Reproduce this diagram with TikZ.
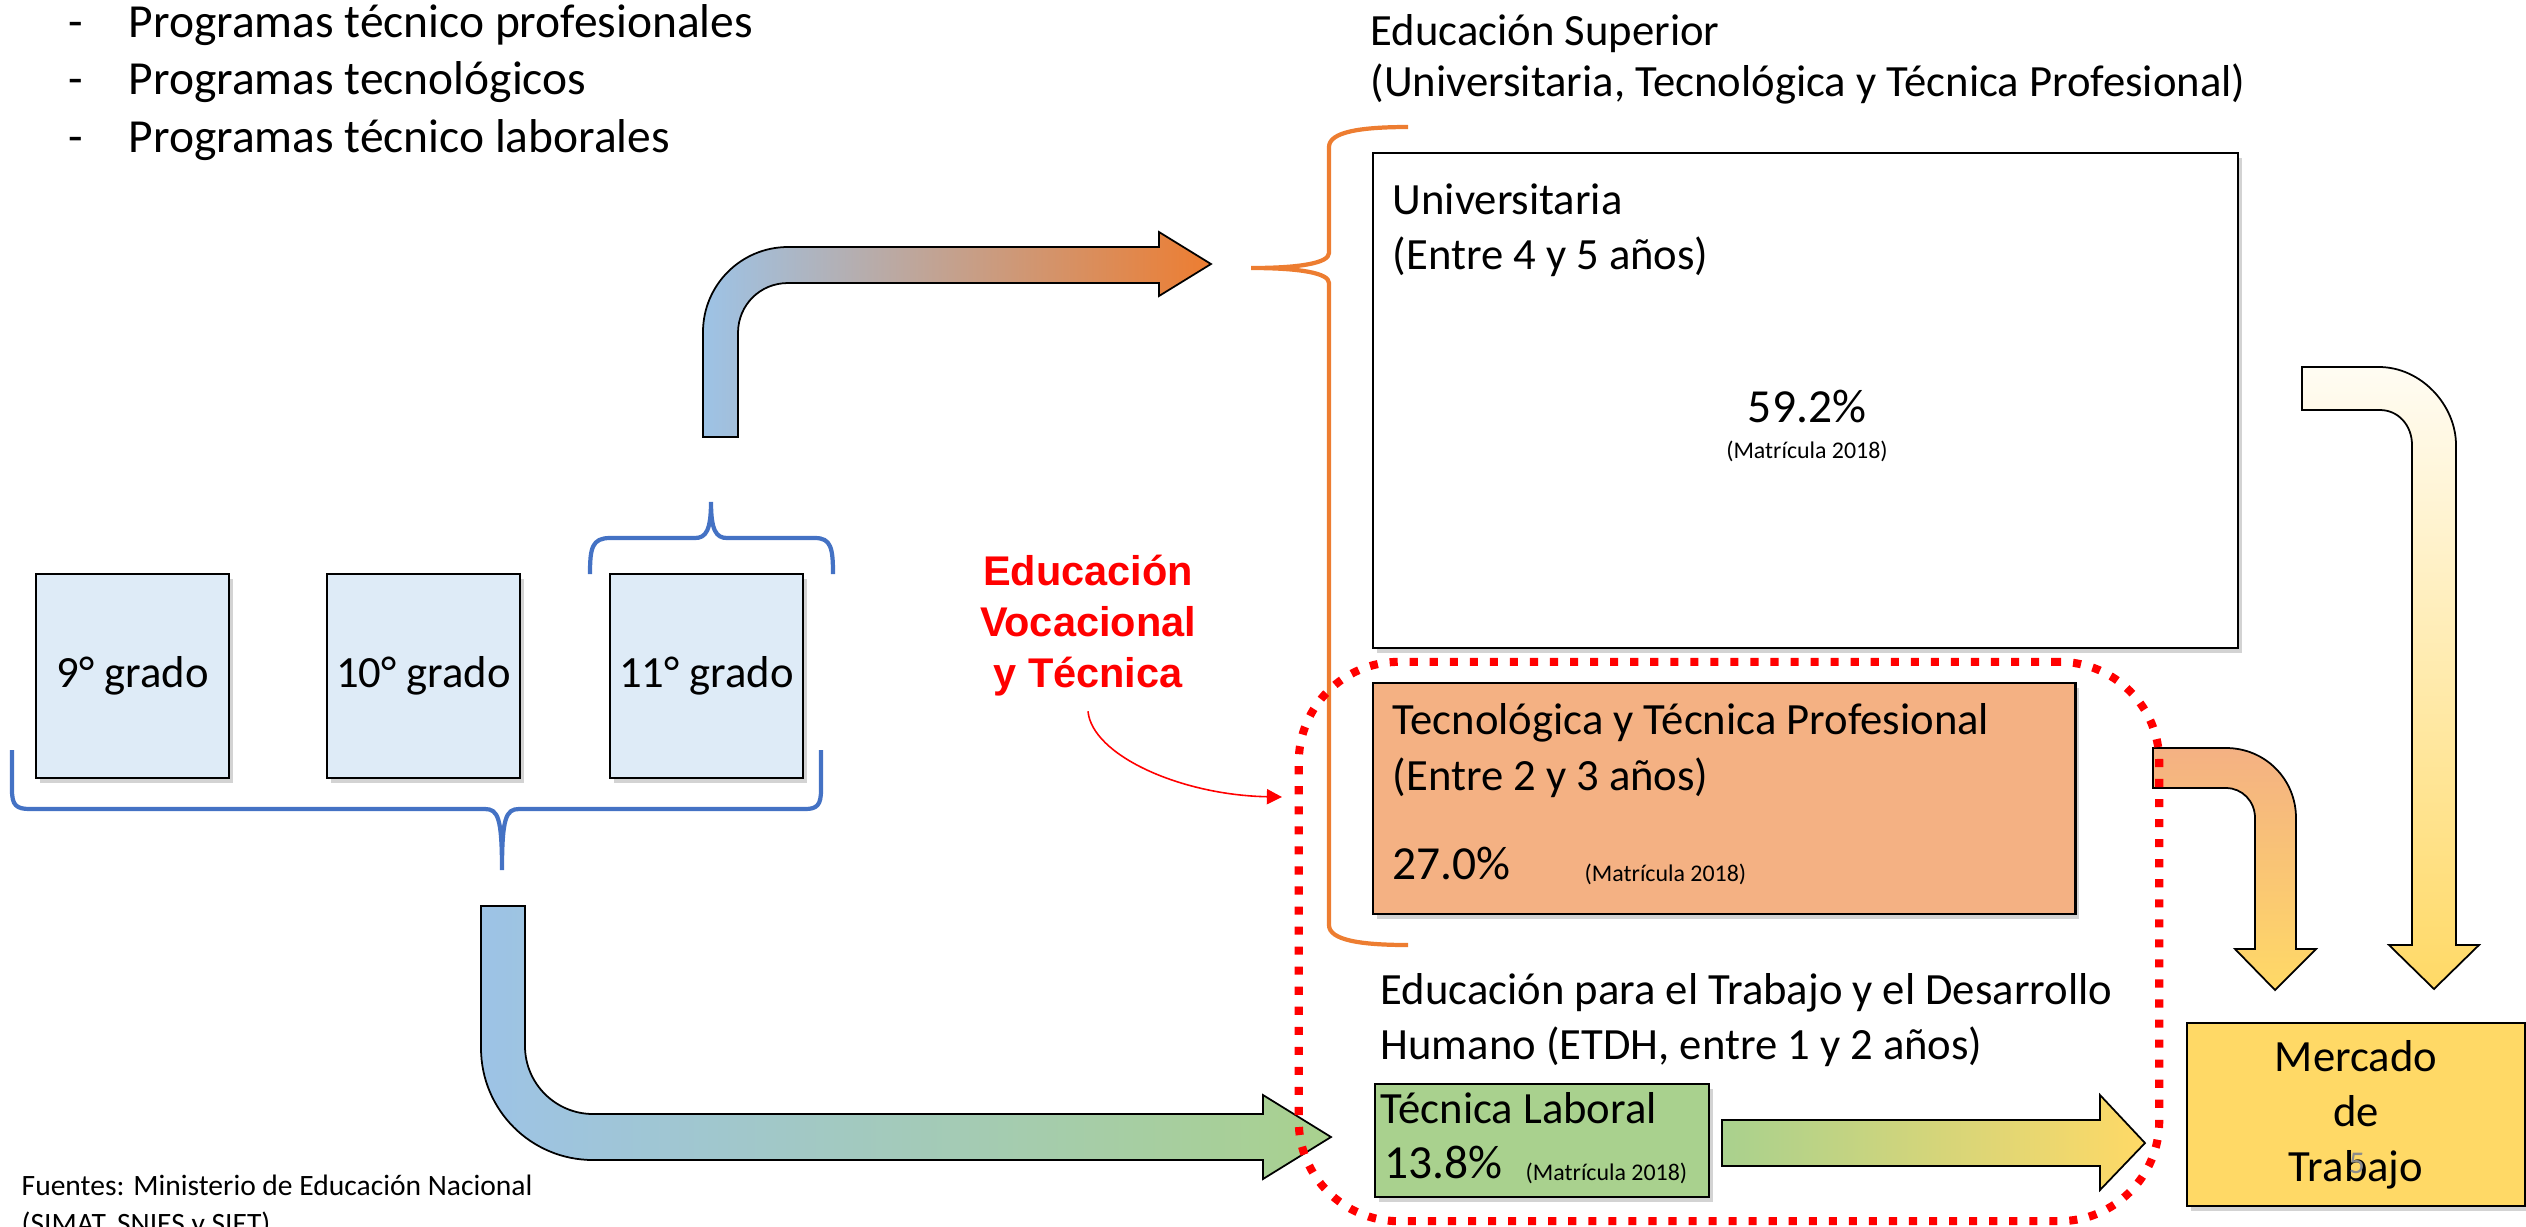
\documentclass[tikz,border=0pt]{standalone}
\usepackage{fontspec}
\setmainfont{Carlito}
\newfontfamily\arialfont{Liberation Sans}
\usepackage{xcolor}
\usepackage{tikz}
\usetikzlibrary{shapes,arrows.meta,positioning,calc,shadows}

\definecolor{gradeblue}{HTML}{DEEBF7}
\definecolor{arrowblue}{HTML}{9DC3E6}
\definecolor{braceblue}{HTML}{4472C4}
\definecolor{braceorange}{HTML}{ED7D31}
\definecolor{tecorange}{HTML}{F4B183}
\definecolor{labgreen}{HTML}{A9D18E}
\definecolor{mercyellow}{HTML}{FFD966}
\definecolor{cream}{HTML}{FFFCF3}
\definecolor{slidegray}{HTML}{8C8C8C}

\newcommand{\bodysize}{\fontsize{12.7}{15.6}\selectfont}
\newcommand{\listsize}{\fontsize{13.5}{16.2}\selectfont}
\newcommand{\pctsize}{\fontsize{13.5}{16}\selectfont}
\newcommand{\matsize}{\fontsize{6.8}{8}\selectfont}
\newcommand{\srcsize}{\fontsize{8.4}{10.8}\selectfont}

\tikzset{
  boxshadow/.style={drop shadow={shadow xshift=0.04cm, shadow yshift=-0.05cm, opacity=0.35}},
  gradebox/.style={draw, line width=0.6pt, fill=gradeblue, boxshadow, minimum width=1.93cm, minimum height=2.04cm, inner sep=0pt, font=\bodysize, anchor=north west},
  levelbox/.style={draw, line width=0.6pt, boxshadow, inner sep=0pt, anchor=north west},
  txt/.style={anchor=base west, inner sep=0pt, font=\bodysize},
  blockarrow/.style={draw, line width=0.5pt, line join=miter},
  bracket/.style={line width=1.2pt},
  vocline/.style={draw=red, line width=2.3pt, dash pattern=on 2.3pt off 3.4pt, rounded corners=1cm},
}

\begin{document}
\begin{tikzpicture}[x=0.01cm, y=-0.01cm]
    \useasboundingbox (0,0) rectangle (2526,1226);

    % Program list
    \node[txt, font=\listsize] (d1) at (68,37) {-};
    \node[txt, font=\listsize] (p1) at (128,37) {Programas técnico profesionales};
    \node[txt, font=\listsize] (d2) at (68,94) {-};
    \node[txt, font=\listsize] (p2) at (128,94) {Programas tecnológicos};
    \node[txt, font=\listsize] (d3) at (68,152) {-};
    \node[txt, font=\listsize] (p3) at (128,152) {Programas técnico laborales};

    % Grades
    \node[gradebox] (g9) at (35,573) {9° grado};
    \node[gradebox] (g10) at (326,573) {10° grado};
    \node[gradebox] (g11) at (609,573) {11° grado};

    % Braces
    \draw[bracket, braceblue] (590,574) .. controls (590,548) and (592,538) .. (610,538) -- (695,538)
        .. controls (706,538) and (711,530) .. (711,502) .. controls (711,530) and (716,538) .. (727,538)
        -- (815,538) .. controls (831,538) and (833,548) .. (833,574);
    \draw[bracket, braceblue] (12,750) -- (12,790) .. controls (12,805) and (16,809) .. (30,809) -- (485,809)
        .. controls (498,809) and (502,818) .. (502,870) .. controls (502,818) and (506,809) .. (519,809)
        -- (805,809) .. controls (817,809) and (821,805) .. (821,790) -- (821,750);
    \draw[bracket, braceorange] (1408,127) .. controls (1360,127) and (1329,132) .. (1329,147) -- (1329,253)
        .. controls (1329,263) and (1300,268) .. (1251,268) .. controls (1300,268) and (1329,273) .. (1329,283)
        -- (1329,925) .. controls (1329,940) and (1360,945) .. (1408,945);

    % Arrows out of secondary school
    \draw[blockarrow, left color=arrowblue, right color=braceorange]
        (703,437) -- (703,332) .. controls (703,285) and (741,247) .. (788,247) -- (1159,247) -- (1159,232)
        -- (1211,264) -- (1159,296) -- (1159,283) -- (788,283) .. controls (760,283) and (738,305) .. (738,333)
        -- (738,437) -- cycle;
    \draw[blockarrow, left color=arrowblue, right color=labgreen]
        (481,906) -- (481,1048) .. controls (481,1110) and (531,1160) .. (593,1160) -- (1263,1160) -- (1263,1179)
        -- (1331,1137) -- (1263,1095) -- (1263,1114) -- (593,1114) .. controls (556,1114) and (525,1084) .. (525,1046)
        -- (525,906) -- cycle;

    % Higher education
    \node[txt] (sup1) at (1370,45) {Educación Superior};
    \node[txt] (sup2) at (1370,96) {(Universitaria, Tecnológica y Técnica Profesional)};

    \node[levelbox, fill=white, minimum width=8.64cm, minimum height=4.95cm] (univ) at (1372,152) {};
    \node[txt] (univ1) at (1392,214) {Universitaria};
    \node[txt] (univ2) at (1392,269) {(Entre 4 y 5 años)};
    \node[anchor=base, inner sep=0pt, font=\pctsize] (univp) at (1807,422) {59.2\%};
    \node[anchor=base, inner sep=0pt, font=\matsize] (univm) at (1807,458) {(Matrícula 2018)};

    \node[levelbox, fill=tecorange, minimum width=7.02cm, minimum height=2.31cm] (tec) at (1372,682) {};
    \node[txt] (tec1) at (1392,734) {Tecnológica y Técnica Profesional};
    \node[txt] (tec2) at (1392,790) {(Entre 2 y 3 años)};
    \node[txt, font=\pctsize] (tecp) at (1392,879) {27.0\%};
    \node[txt, font=\matsize] (tecm) at (1584,881) {(Matrícula 2018)};

    % ETDH
    \node[txt] (etdh1) at (1380,1004) {Educación para el Trabajo y el Desarrollo};
    \node[txt] (etdh2) at (1380,1059) {Humano (ETDH, entre 1 y 2 años)};
    \node[levelbox, fill=labgreen, minimum width=3.34cm, minimum height=1.13cm] (lab) at (1374,1083) {};
    \node[txt] (lab1) at (1380,1123) {Técnica Laboral};
    \node[txt, font=\pctsize] (labp) at (1384,1178) {13.8\%};
    \node[txt, font=\matsize] (labm) at (1525,1180) {(Matrícula 2018)};

    % Labour market
    \node[levelbox, fill=mercyellow, minimum width=3.38cm, minimum height=1.83cm, anchor=center,
          align=center, font=\bodysize] (merc) at (2356,1114.5) {Mercado\\de\\Trabajo};
    \node[font=\fontsize{9}{9}\selectfont, text=slidegray, inner sep=0pt] (slnum) at (2357,1163) {5};

    % Arrows to the labour market
    \draw[blockarrow, left color=labgreen, right color=mercyellow]
        (1722,1120) -- (2100,1120) -- (2100,1095) -- (2145,1143) -- (2100,1190) -- (2100,1166) -- (1722,1166) -- cycle;
    \draw[blockarrow, top color=tecorange, bottom color=mercyellow]
        (2153,748) -- (2226,748) .. controls (2265,748) and (2296,779) .. (2296,818) -- (2296,949) -- (2316,949)
        -- (2275,990) -- (2235,949) -- (2255,949) -- (2255,818) .. controls (2255,801) and (2242,788) .. (2226,788)
        -- (2153,788) -- cycle;
    \draw[blockarrow, top color=cream, bottom color=mercyellow]
        (2302,367) -- (2379,367) .. controls (2421,367) and (2456,405) .. (2456,445) -- (2456,945) -- (2479,945)
        -- (2434,989) -- (2389,945) -- (2412,945) -- (2412,445) .. controls (2412,425) and (2398,410) .. (2380,410)
        -- (2302,410) -- cycle;

    % Vocational and technical education
    \node[vocline, minimum width=8.6cm, minimum height=5.59cm] (voc) at (1729,941.5) {};
    \node[font=\arialfont\bfseries\fontsize{11.8}{14.5}\selectfont, text=red, align=center,
          inner xsep=0pt, inner ysep=4pt] (vocal) at (1088,626) {Educación\\Vocacional\\y Técnica};
    \coordinate (redtip) at (1282,797);
    \draw[red, line width=0.45pt, -{Triangle[length=4.3pt, width=4.3pt]}]
        (vocal.south) .. controls (1092,755) and (1180,795) .. (redtip);

    % Sources
    \node[txt, font=\srcsize] (src1) at (21,1195) {Fuentes: Ministerio de Educación Nacional};
    \node[txt, font=\srcsize] (src2) at (21,1233) {(SIMAT, SNIES y SIET)};
\end{tikzpicture}
\end{document}
